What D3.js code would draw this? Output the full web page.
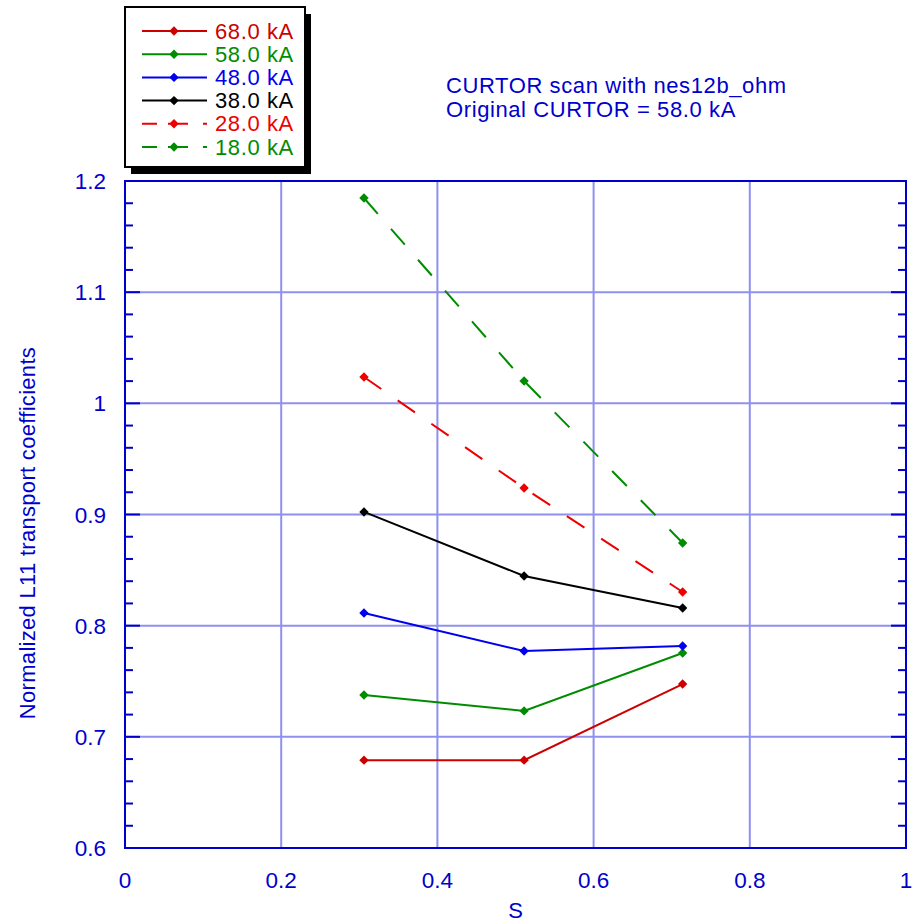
<!DOCTYPE html>
<html><head><meta charset="utf-8">
<script src="https://cdn.jsdelivr.net/npm/d3@7"></script>
<style>body{margin:0;background:#fff;}svg{display:block;font-family:"Liberation Sans",Arial,Helvetica,sans-serif;}</style>
</head><body><svg id="c" width="917" height="923"></svg>
<script>
const sValues = [0.306, 0.511, 0.714];
const seriesNames = ["68.0 kA","58.0 kA","48.0 kA","38.0 kA","28.0 kA","18.0 kA"];
const s68 = [0.679, 0.679, 0.7475];
const s58 = [0.7376, 0.7233, 0.7754];
const s48 = [0.8114, 0.7772, 0.7817];
const s38 = [0.9023, 0.8447, 0.8159];
const s28 = [1.0237, 0.9238, 0.8303];
const s18 = [1.1847, 1.0201, 0.8744];
const seriesColors = ["#cc0000","#008c00","#0000ee","#000000","#ee0000","#008c00"];
const seriesDashed = [false,false,false,false,true,true];
const xTicks = [0,0.2,0.4,0.6,0.8,1];
const xTickLabels = ["0","0.2","0.4","0.6","0.8","1"];
const yTicks = [0.6,0.7,0.8,0.9,1.0,1.1,1.2];
const yTickLabels = ["0.6","0.7","0.8","0.9","1","1.1","1.2"];
const annotation = ["CURTOR scan with nes12b_ohm","Original CURTOR = 58.0 kA"];
const xTitle = "S";
const yTitle = "Normalized L11  transport coefficients";

const allSeries = [s68,s58,s48,s38,s28,s18];
const svg = d3.select("#c");
const axisColor = "#0000cc", gridColor = "#9090ee";
const L=125,R=906,T=181,B=848;
const x = d3.scaleLinear().domain([0,1]).range([L,R]);
const y = d3.scaleLinear().domain([0.6,1.2]).range([B,T]);

// grid
const g = svg.append("g");
g.selectAll(".gx").data(xTicks.slice(1,-1)).enter().append("line")
 .attr("x1",d=>x(d)).attr("x2",d=>x(d)).attr("y1",T).attr("y2",B)
 .attr("stroke",gridColor).attr("stroke-width",2);
g.selectAll(".gy").data(yTicks.slice(1,-1)).enter().append("line")
 .attr("y1",d=>y(d)).attr("y2",d=>y(d)).attr("x1",L).attr("x2",R)
 .attr("stroke",gridColor).attr("stroke-width",2);

// minor ticks (left and right, inward)
const minor = d3.range(0.62,1.2,0.02).filter(v=>Math.abs(Math.round(v*10)-v*10)>0.01);
svg.append("g").selectAll("line").data(minor).enter().append("line")
 .attr("x1",L).attr("x2",L+8).attr("y1",d=>y(d)).attr("y2",d=>y(d))
 .attr("stroke",axisColor).attr("stroke-width",2);
svg.append("g").selectAll("line").data(minor).enter().append("line")
 .attr("x1",R).attr("x2",R-8).attr("y1",d=>y(d)).attr("y2",d=>y(d))
 .attr("stroke",axisColor).attr("stroke-width",2);
// major ticks
svg.append("g").selectAll("line").data(yTicks).enter().append("line")
 .attr("x1",L).attr("x2",L+15).attr("y1",d=>y(d)).attr("y2",d=>y(d))
 .attr("stroke",axisColor).attr("stroke-width",2);
svg.append("g").selectAll("line").data(yTicks).enter().append("line")
 .attr("x1",R).attr("x2",R-15).attr("y1",d=>y(d)).attr("y2",d=>y(d))
 .attr("stroke",axisColor).attr("stroke-width",2);

// frame
svg.append("rect").attr("x",L).attr("y",T).attr("width",R-L).attr("height",B-T)
 .attr("fill","none").attr("stroke",axisColor).attr("stroke-width",2);

// tick labels
svg.append("g").selectAll("text").data(xTicks).enter().append("text")
 .attr("x",d=>x(d)).attr("y",888).attr("text-anchor","middle")
 .attr("font-size",22.5).attr("fill",axisColor).text((d,i)=>xTickLabels[i]);
svg.append("g").selectAll("text").data(yTicks).enter().append("text")
 .attr("x",106).attr("y",d=>y(d)+8).attr("text-anchor","end")
 .attr("font-size",22.5).attr("fill",axisColor).text((d,i)=>yTickLabels[i]);

// axis titles
svg.append("text").attr("x",(L+R)/2).attr("y",918).attr("text-anchor","middle")
 .attr("font-size",22).attr("fill",axisColor).text(xTitle);
svg.append("text").attr("transform","translate(35,533) rotate(-90)").attr("text-anchor","middle")
 .attr("font-size",22).attr("letter-spacing",0.3).attr("fill",axisColor).text(yTitle);

// annotation
svg.append("g").selectAll("text").data(annotation).enter().append("text")
 .attr("x",446).attr("y",(d,i)=>93+i*24).attr("font-size",22).attr("letter-spacing",0.6)
 .attr("fill",axisColor).text(d=>d);

// series
const line = d3.line().x((d,i)=>x(sValues[i])).y(d=>y(d));
const diamond = d3.symbol().type(d3.symbolSquare).size(44);
allSeries.forEach((vals,k)=>{
  svg.append("path").attr("d",line(vals)).attr("fill","none")
   .attr("stroke",seriesColors[k]).attr("stroke-width",2)
   .attr("stroke-dasharray",seriesDashed[k]?"21,20":null);
  svg.append("g").selectAll("path").data(vals).enter().append("path")
   .attr("d",diamond).attr("transform",(d,i)=>`translate(${x(sValues[i])},${y(d)}) rotate(45)`)
   .attr("fill",seriesColors[k]);
});

// legend
const lg = svg.append("g");
lg.append("rect").attr("x",131).attr("y",14).attr("width",180).attr("height",160).attr("fill","#000");
lg.append("rect").attr("x",125).attr("y",7).attr("width",180).attr("height",160)
 .attr("fill","#fff").attr("stroke","#000").attr("stroke-width",2);
seriesNames.forEach((name,k)=>{
  const cy = 31 + k*23.2;
  lg.append("line").attr("x1",142).attr("x2",207).attr("y1",cy).attr("y2",cy)
   .attr("stroke",seriesColors[k]).attr("stroke-width",2)
   .attr("stroke-dasharray",seriesDashed[k]?"15,11,20,15,4":null);
  lg.append("path").attr("d",diamond).attr("transform",`translate(174,${cy}) rotate(45)`).attr("fill",seriesColors[k]);
  lg.append("text").attr("x",215).attr("y",cy+7.5).attr("font-size",22).attr("letter-spacing",0.6)
   .attr("fill",seriesColors[k]).text(name);
});
</script></body></html>
